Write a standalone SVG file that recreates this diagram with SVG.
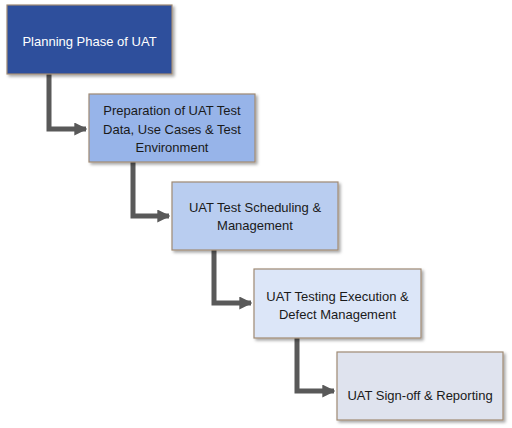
<svg xmlns="http://www.w3.org/2000/svg" width="512" height="428" viewBox="0 0 512 428">
<defs>
<style>
.box{stroke:#a08a74;stroke-width:1.2;filter:url(#sh)}
.t{font-family:"Liberation Sans",Arial,sans-serif;font-size:13px;text-anchor:middle;fill:#1a1a1a}
.w{fill:#ffffff}
.c{fill:none;stroke:#595959;stroke-width:5;stroke-linejoin:miter}
</style>
<filter id="sh" x="-10%" y="-10%" width="130%" height="140%">
<feDropShadow dx="2" dy="2" stdDeviation="1.5" flood-color="#000" flood-opacity="0.35"/>
</filter>
<marker id="ah" viewBox="0 0 10 10" refX="9" refY="5" markerWidth="2.6" markerHeight="2.6" orient="auto" markerUnits="strokeWidth">
<path d="M0,0 L10,5 L0,10 z" fill="#595959"/>
</marker>
</defs>
<rect width="512" height="428" fill="#ffffff"/>
<g id="connectors">
<path class="c" d="M49,74 V129 H86" marker-end="url(#ah)"/>
<path class="c" d="M133,162 V216 H169" marker-end="url(#ah)"/>
<path class="c" d="M214,250 V303 H251" marker-end="url(#ah)"/>
<path class="c" d="M297,338 V391 H334" marker-end="url(#ah)"/>
</g>
<g id="n1">
<rect class="box" x="7" y="5" width="165" height="69" fill="#2f4f9c"/>
<text class="t w" x="89.5" y="46">Planning Phase of UAT</text>
</g>
<g id="n2">
<rect class="box" x="89" y="94" width="166" height="68" fill="#97b4e9"/>
<text class="t" x="172" y="115">Preparation of UAT Test</text>
<text class="t" x="172" y="133.5">Data, Use Cases &amp; Test</text>
<text class="t" x="172" y="152">Environment</text>
</g>
<g id="n3">
<rect class="box" x="172" y="182" width="166" height="68" fill="#b9cdf0"/>
<text class="t" x="255" y="212">UAT Test Scheduling &amp;</text>
<text class="t" x="255" y="230">Management</text>
</g>
<g id="n4">
<rect class="box" x="254" y="269" width="167" height="69" fill="#dce6f8"/>
<text class="t" x="337.5" y="301">UAT Testing Execution &amp;</text>
<text class="t" x="337.5" y="319">Defect Management</text>
</g>
<g id="n5">
<rect class="box" x="337" y="352" width="166" height="68" fill="#dfe3ee"/>
<text class="t" x="420" y="399.5">UAT Sign-off &amp; Reporting</text>
</g>
</svg>
